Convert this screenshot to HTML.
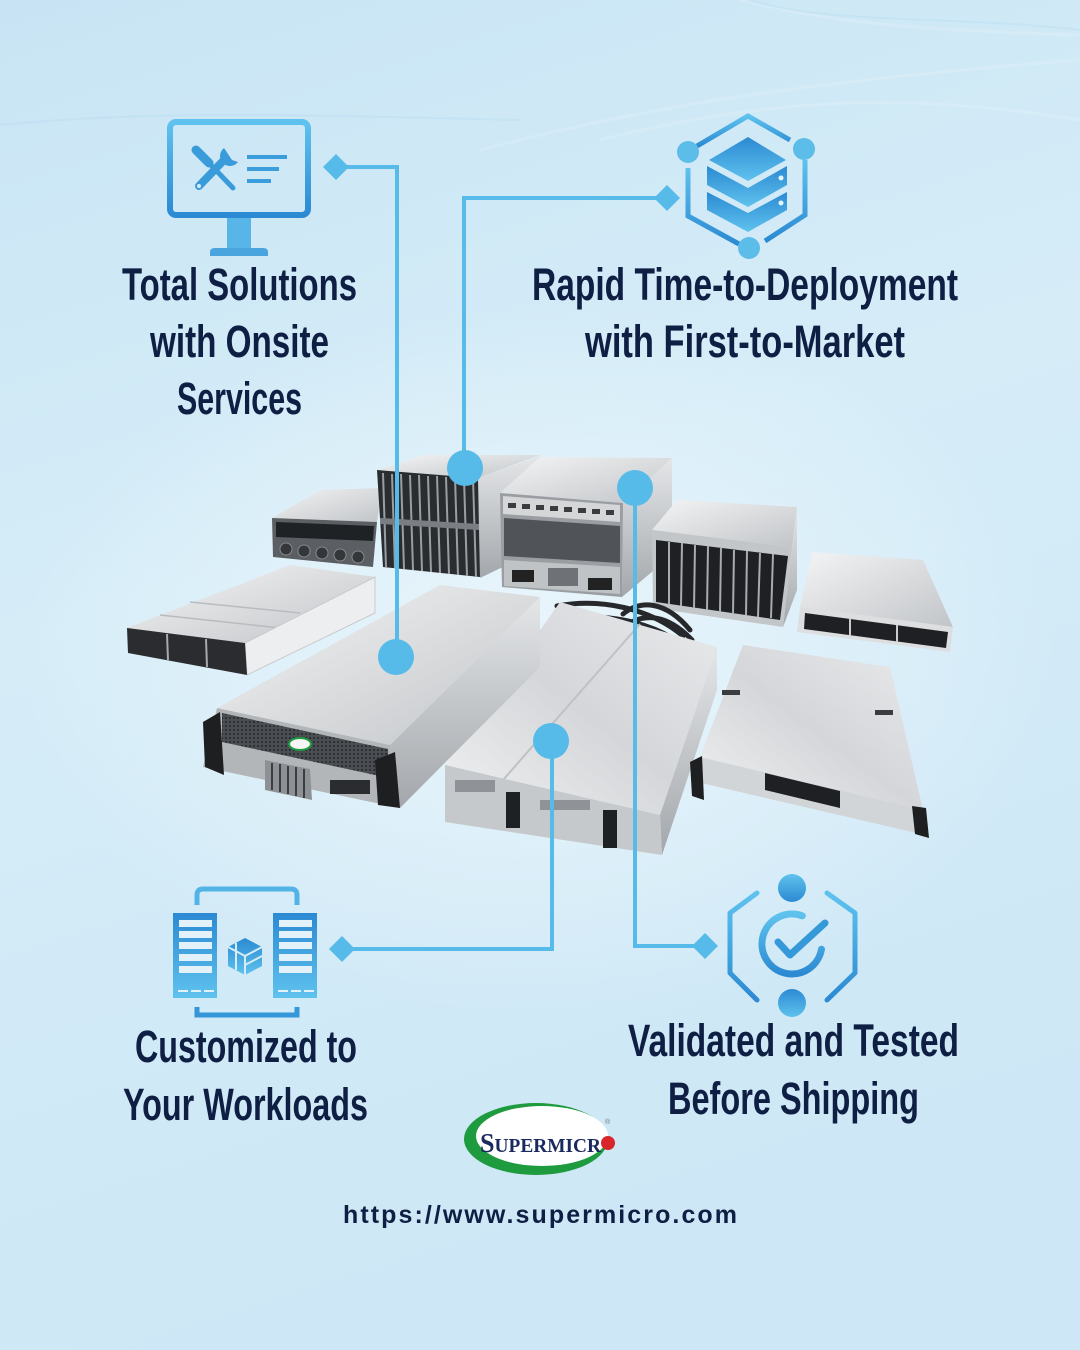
<!DOCTYPE html>
<html><head><meta charset="utf-8">
<style>
html,body{margin:0;padding:0;width:1080px;height:1350px;overflow:hidden;background:#d3ebf7}
svg{display:block}
.t{font-family:"Liberation Sans",Arial,sans-serif;font-weight:bold;fill:#0f1f44}
</style></head>
<body>
<svg width="1080" height="1350" viewBox="0 0 1080 1350" xmlns="http://www.w3.org/2000/svg">
<defs>
<linearGradient id="bg" x1="0" y1="0" x2="0.25" y2="1">
 <stop offset="0" stop-color="#c8e4f4"/><stop offset="0.45" stop-color="#d6edf8"/><stop offset="1" stop-color="#cde7f6"/>
</linearGradient>
<radialGradient id="glow" cx="0.5" cy="0.5" r="0.5">
 <stop offset="0" stop-color="#eef7fc" stop-opacity="0.85"/><stop offset="1" stop-color="#eef7fc" stop-opacity="0"/>
</radialGradient>
<linearGradient id="ic" x1="0" y1="0" x2="0" y2="1"><stop offset="0" stop-color="#5fc2ee"/><stop offset="1" stop-color="#2b8ad2"/></linearGradient>
<linearGradient id="icr" x1="0" y1="0" x2="0" y2="1"><stop offset="0" stop-color="#2b8ad2"/><stop offset="1" stop-color="#5fc2ee"/></linearGradient>
<linearGradient id="top" x1="0" y1="0" x2="1" y2="1"><stop offset="0" stop-color="#f3f4f5"/><stop offset="1" stop-color="#c2c5c8"/></linearGradient>
<linearGradient id="top2" x1="1" y1="0" x2="0" y2="1"><stop offset="0" stop-color="#e9eaec"/><stop offset="0.5" stop-color="#d4d6d9"/><stop offset="1" stop-color="#f0f1f2"/></linearGradient>
<linearGradient id="side" x1="0" y1="0" x2="0" y2="1"><stop offset="0" stop-color="#e4e6e8"/><stop offset="1" stop-color="#a3a7ab"/></linearGradient>
<pattern id="grille" width="4" height="4" patternUnits="userSpaceOnUse"><rect width="4" height="4" fill="#4a4d51"/><circle cx="2" cy="2" r="1" fill="#25282b"/></pattern>
</defs>

<rect width="1080" height="1350" fill="url(#bg)"/>
<ellipse cx="540" cy="660" rx="520" ry="360" fill="url(#glow)"/>
<g fill="none" stroke="#ffffff" stroke-opacity="0.14" stroke-width="3">
 <path d="M480 150 C650 105 820 80 1080 60"/>
 <path d="M740 0 C820 20 900 30 1080 35"/>
 <path d="M600 140 C760 100 900 90 1080 120"/>
</g>
<g fill="none" stroke="#9fd0ec" stroke-opacity="0.2" stroke-width="2">
 <path d="M750 0 C830 25 950 15 1080 30"/>
 <path d="M0 125 C150 110 300 115 520 120"/>
</g>

<!-- ===== SERVERS ===== -->
<!-- A small 4U -->
<polygon points="272,518 320,490 382,488 377,522" fill="url(#top)"/>
<polygon points="272,518 377,522 373,567 273,557" fill="#5b5e62"/>
<polygon points="276,522 374,526 373,541 276,537" fill="#1f2225"/>
<g fill="#34373a" stroke="#85898d" stroke-width="1">
 <circle cx="286" cy="549" r="6"/><circle cx="304" cy="551" r="6"/><circle cx="322" cy="553" r="6"/><circle cx="340" cy="555" r="6"/><circle cx="358" cy="557" r="6"/>
</g>

<!-- B blade chassis -->
<polygon points="478,478 540,456 542,548 480,578" fill="url(#side)"/>
<polygon points="377,470 425,455 540,455 478,478" fill="url(#top)"/>
<polygon points="377,470 478,478 480,577 383,567" fill="#2a2d30"/>
<g stroke="#9a9ea2" stroke-width="2">
 <line x1="383" y1="473" x2="386" y2="567"/><line x1="392" y1="474" x2="395" y2="568"/><line x1="401" y1="474" x2="404" y2="569"/><line x1="410" y1="475" x2="413" y2="570"/><line x1="419" y1="475" x2="422" y2="571"/><line x1="428" y1="476" x2="431" y2="572"/><line x1="437" y1="476" x2="440" y2="573"/><line x1="446" y1="477" x2="449" y2="574"/><line x1="455" y1="477" x2="458" y2="575"/><line x1="464" y1="478" x2="467" y2="576"/><line x1="473" y1="478" x2="476" y2="577"/>
</g>
<polygon points="380,518 479,524 479,530 380,524" fill="#7a7e82"/>

<!-- C 4U GPU -->
<polygon points="500,493 540,457 672,458 623,503" fill="url(#top)"/>
<polygon points="623,503 672,458 672,555 622,597" fill="url(#side)"/>
<polygon points="500,493 623,503 622,597 502,587" fill="#9a9da1"/>
<polygon points="503,496 620,505 620,522 503,514" fill="#d4d6d8"/>
<g fill="#3a3d40"><rect x="508" y="503" width="8" height="5"/><rect x="522" y="504" width="8" height="5"/><rect x="536" y="505" width="8" height="5"/><rect x="550" y="506" width="8" height="5"/><rect x="564" y="507" width="8" height="5"/><rect x="578" y="508" width="8" height="5"/><rect x="592" y="509" width="8" height="5"/><rect x="606" y="510" width="8" height="5"/></g>
<polygon points="504,518 620,526 620,563 504,556" fill="#505357"/>
<polygon points="504,560 620,567 620,594 504,586" fill="#c0c3c6"/>
<rect x="512" y="570" width="22" height="12" fill="#222"/>
<rect x="548" y="568" width="30" height="18" fill="#6e7276"/>
<rect x="588" y="578" width="24" height="12" fill="#222"/>

<!-- D 8-blade -->
<polygon points="652,530 677,500 797,507 792,547" fill="url(#top)"/>
<polygon points="792,547 797,507 797,590 783,627" fill="url(#side)"/>
<polygon points="652,530 792,547 783,627 653,608" fill="#c3c6c9"/>
<polygon points="656,540 788,556 780,620 656,602" fill="#1e2023"/>
<g stroke="#a8acb0" stroke-width="2">
 <line x1="669" y1="542" x2="669" y2="604"/><line x1="682" y1="543" x2="681" y2="606"/><line x1="695" y1="545" x2="694" y2="608"/><line x1="708" y1="546" x2="707" y2="610"/><line x1="721" y1="548" x2="720" y2="612"/><line x1="734" y1="550" x2="733" y2="614"/><line x1="747" y1="551" x2="746" y2="615"/><line x1="760" y1="553" x2="758" y2="617"/><line x1="773" y1="554" x2="771" y2="618"/>
</g>

<!-- E 2U right -->
<polygon points="812,552 923,560 953,627 800,607" fill="url(#top)"/>
<polygon points="800,607 953,627 950,652 797,632" fill="#dcdee0"/>
<polygon points="805,613 948,632 946,648 804,629" fill="#1e2023"/>
<g stroke="#c9cbcd" stroke-width="2"><line x1="850" y1="618" x2="850" y2="636"/><line x1="897" y1="625" x2="897" y2="642"/></g>

<!-- F 2U left -->
<polygon points="127,628 290,565 375,577 245,643" fill="url(#top)"/>
<g stroke="#b9bcbf" stroke-width="1.5"><line x1="160" y1="615" x2="280" y2="628"/><line x1="190" y1="602" x2="300" y2="613"/></g>
<polygon points="245,643 375,577 375,613 247,675" fill="#eceeef" stroke="#c8cbce" stroke-width="1"/>
<polygon points="127,628 245,643 247,675 128,653" fill="#2a2c2f"/>
<g stroke="#a7abaf" stroke-width="2"><line x1="167" y1="634" x2="168" y2="660"/><line x1="206" y1="639" x2="207" y2="667"/></g>

<!-- cables -->
<g fill="none" stroke="#26282b" stroke-width="5" stroke-linecap="round">
 <path d="M557 606 C600 598 650 608 683 636"/>
 <path d="M557 619 C605 612 650 622 678 642"/>
 <path d="M623 614 C640 600 665 600 690 630"/>
 <path d="M625 626 C645 612 668 615 692 640"/>
</g>

<!-- H center-right 2U -->
<polygon points="445,765 560,602 717,647 660,815" fill="url(#top2)"/>
<line x1="503" y1="780" x2="640" y2="624" stroke="#bfc2c5" stroke-width="2"/>
<polygon points="660,815 717,647 717,690 662,855" fill="url(#side)"/>
<polygon points="445,765 660,815 662,855 445,822" fill="#c6c9cc"/>
<rect x="506" y="792" width="14" height="36" fill="#1e2023"/>
<rect x="603" y="810" width="14" height="38" fill="#1e2023"/>
<rect x="455" y="780" width="40" height="12" fill="#8f9397"/>
<rect x="540" y="800" width="50" height="10" fill="#8f9397"/>

<!-- G big center-left -->
<polygon points="217,708 440,585 540,597 390,745" fill="url(#top)"/>
<polygon points="390,745 540,597 540,667 400,808" fill="url(#side)"/>
<polygon points="217,708 390,745 400,808 203,767" fill="#b3b6b9"/>
<polygon points="222,713 388,749 389,778 222,742" fill="url(#grille)"/>
<ellipse cx="300" cy="744" rx="11" ry="6" fill="#f5f5f5" stroke="#1e9a3f" stroke-width="2"/>
<polygon points="265,760 310,769 312,800 265,790" fill="#8d9195"/>
<g stroke="#3b3e41" stroke-width="2"><line x1="272" y1="763" x2="272" y2="790"/><line x1="280" y1="764" x2="280" y2="792"/><line x1="288" y1="766" x2="288" y2="794"/><line x1="296" y1="767" x2="296" y2="796"/><line x1="304" y1="769" x2="304" y2="798"/></g>
<polygon points="203,722 220,712 224,775 205,767" fill="#1d1f21"/>
<polygon points="375,760 395,752 400,808 378,805" fill="#1d1f21"/>
<rect x="330" y="780" width="40" height="14" fill="#2a2c2f"/>

<!-- I right 1U -->
<polygon points="743,645 890,667 923,810 700,757" fill="url(#top2)"/>
<polygon points="700,757 923,810 925,835 697,782" fill="#d2d5d7"/>
<polygon points="765,773 840,791 840,808 765,790" fill="#1e2023"/>
<polygon points="690,762 702,756 704,800 692,796" fill="#1d1f21"/>
<polygon points="912,806 926,808 929,838 915,834" fill="#1d1f21"/>
<rect x="722" y="690" width="18" height="5" fill="#3a3d40"/>
<rect x="875" y="710" width="18" height="5" fill="#3a3d40"/>

<!-- ===== CONNECTORS ===== -->
<g fill="#56bbe9" stroke="none">
 <polygon points="336,154 349,167 336,180 323,167"/>
 <rect x="345" y="165" width="54" height="4"/>
 <rect x="395" y="165" width="4" height="492"/>
 <circle cx="396" cy="657" r="18"/>
 <polygon points="667,185 680,198 667,211 654,198"/>
 <rect x="462" y="196" width="195" height="4"/>
 <rect x="462" y="196" width="4" height="272"/>
 <circle cx="465" cy="468" r="18"/>
 <circle cx="635" cy="488" r="18"/>
 <rect x="633" y="488" width="4" height="460"/>
 <rect x="633" y="944" width="64" height="4"/>
 <polygon points="705,933 718,946 705,959 692,946"/>
 <circle cx="551" cy="741" r="18"/>
 <rect x="550" y="741" width="4" height="210"/>
 <rect x="352" y="947" width="202" height="4"/>
 <polygon points="342,936 355,949 342,962 329,949"/>
</g>

<!-- ===== ICON: monitor ===== -->
<rect x="170" y="122" width="138" height="93" rx="6" fill="none" stroke="url(#ic)" stroke-width="6"/>
<rect x="227" y="218" width="24" height="30" fill="#57b5e7"/>
<path d="M210 256 L210 252 Q210 248 215 248 L263 248 Q268 248 268 252 L268 256 Z" fill="#4aa5df"/>
<g fill="#3b9ddc">
 <rect x="247" y="155" width="40" height="4"/>
 <rect x="247" y="167" width="32" height="4"/>
 <rect x="247" y="179" width="24" height="4"/>
</g>
<g stroke="#3a9bdb" stroke-linecap="round" fill="none">
 <line x1="196" y1="150" x2="209" y2="163" stroke-width="9"/>
 <line x1="209" y1="163" x2="233" y2="188" stroke-width="5"/>
 <line x1="199" y1="186" x2="224" y2="160" stroke-width="8"/>
</g>
<path d="M224 148 A10 10 0 1 0 238 162 L232 160 L228 154 Z" fill="#3a9bdb"/>
<circle cx="199" cy="186" r="2" fill="#d6edf8"/>

<!-- ===== ICON: hex stack ===== -->
<g fill="none" stroke="url(#ic)" stroke-width="5" stroke-linecap="butt">
 <path d="M697 146 L748 116 L790 140"/>
 <path d="M805 160 L805 215 L765 241"/>
 <path d="M688 168 L688 216 L739 244"/>
</g>
<g fill="#5dbde9">
 <circle cx="688" cy="152" r="11"/>
 <circle cx="804" cy="149" r="11"/>
 <circle cx="749" cy="248" r="11"/>
</g>
<polygon points="748,137 786,160 748,181 709,160" fill="url(#icr)"/>
<path d="M707 166 L748 188 L787 166 L787 185 L748 207 L707 185 Z" fill="url(#icr)"/>
<path d="M707 192 L748 213 L787 192 L787 210 L748 232 L707 210 Z" fill="url(#icr)"/>
<circle cx="781" cy="178" r="2.5" fill="#e6f4fb"/>
<circle cx="781" cy="203" r="2.5" fill="#e6f4fb"/>

<!-- ===== ICON: racks ===== -->
<path d="M197 905 L197 895 Q197 889 203 889 L291 889 Q297 889 297 895 L297 905" fill="none" stroke="#52b3e6" stroke-width="5"/>
<path d="M197 1007 L197 1015 L297 1015 L297 1007" fill="none" stroke="#3597d9" stroke-width="5"/>
<rect x="173" y="913" width="44" height="85" fill="url(#icr)"/>
<rect x="273" y="913" width="44" height="85" fill="url(#icr)"/>
<g fill="#e3f1fa">
 <rect x="179" y="920" width="33" height="7"/><rect x="179" y="931" width="33" height="7"/><rect x="179" y="942" width="33" height="7"/><rect x="179" y="954" width="33" height="7"/><rect x="179" y="966" width="33" height="7"/>
 <rect x="279" y="920" width="33" height="7"/><rect x="279" y="931" width="33" height="7"/><rect x="279" y="942" width="33" height="7"/><rect x="279" y="954" width="33" height="7"/><rect x="279" y="966" width="33" height="7"/>
 <rect x="178" y="990" width="10" height="2"/><rect x="191" y="990" width="10" height="2"/><rect x="204" y="990" width="10" height="2"/>
 <rect x="278" y="990" width="10" height="2"/><rect x="291" y="990" width="10" height="2"/><rect x="304" y="990" width="10" height="2"/>
</g>
<polygon points="245,938 262,947 262,966 245,975 228,966 228,947" fill="url(#icr)"/>
<g stroke="#d6edf8" stroke-width="2" fill="none">
 <path d="M228 947 L245 956 L262 947"/><path d="M245 956 L245 975"/><path d="M236 943 L236 970"/><path d="M245 965 L262 956"/>
</g>

<!-- ===== ICON: validated ===== -->
<circle cx="792" cy="888" r="14" fill="url(#ic)"/>
<circle cx="792" cy="1003" r="14" fill="url(#icr)"/>
<g fill="none" stroke="url(#ic)" stroke-width="5" stroke-linecap="round" stroke-linejoin="round">
 <path d="M757 893 L730 913 L730 973 L757 1000"/>
 <path d="M827 893 L855 913 L855 973 L827 1000"/>
</g>
<path d="M802.3 915.8 A30 30 0 1 0 821.5 949.2" fill="none" stroke="url(#ic)" stroke-width="7" stroke-linecap="round"/>
<path d="M778 942 L790 955 L825 923" fill="none" stroke="#3598d9" stroke-width="7" stroke-linecap="round" stroke-linejoin="round"/>

<!-- ===== TEXT ===== -->
<g class="t" font-size="45">
 <text x="122" y="300" textLength="235" lengthAdjust="spacingAndGlyphs">Total Solutions</text>
 <text x="150" y="357" textLength="179" lengthAdjust="spacingAndGlyphs">with Onsite</text>
 <text x="177" y="414" textLength="125" lengthAdjust="spacingAndGlyphs">Services</text>
 <text x="532" y="300" textLength="426" lengthAdjust="spacingAndGlyphs">Rapid Time-to-Deployment</text>
 <text x="585" y="357" textLength="320" lengthAdjust="spacingAndGlyphs">with First-to-Market</text>
 <text x="135" y="1062" textLength="222" lengthAdjust="spacingAndGlyphs">Customized to</text>
 <text x="123" y="1120" textLength="245" lengthAdjust="spacingAndGlyphs">Your Workloads</text>
 <text x="628" y="1056" textLength="331" lengthAdjust="spacingAndGlyphs">Validated and Tested</text>
 <text x="668" y="1114" textLength="251" lengthAdjust="spacingAndGlyphs">Before Shipping</text>
</g>
<text class="t" x="343" y="1223" font-size="25" textLength="394" lengthAdjust="spacing">https://www.supermicro.com</text>

<!-- ===== LOGO ===== -->
<ellipse cx="536" cy="1139" rx="72" ry="36" fill="#1e9a3f"/>
<ellipse cx="542" cy="1136" rx="66" ry="30" fill="#ffffff"/>
<text x="480" y="1152" font-family="'Liberation Serif',serif" font-weight="bold" fill="#1b2a5e" textLength="121" lengthAdjust="spacingAndGlyphs"><tspan font-size="27">S</tspan><tspan font-size="20">UPERMICR</tspan></text>
<circle cx="608" cy="1143" r="7" fill="#d9262b"/>
<text x="605" y="1124" font-family="'Liberation Sans',sans-serif" font-size="7" fill="#777">®</text>
</svg>
</body></html>
